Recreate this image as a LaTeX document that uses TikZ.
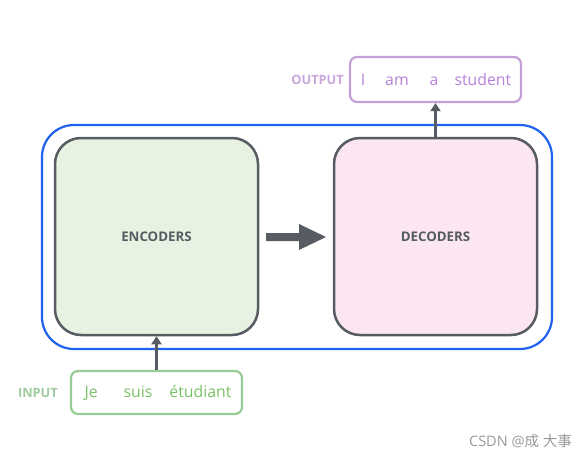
\documentclass[tikz,border=0pt]{standalone}
\usepackage{fontspec}
\setmainfont{Open Sans}
\newfontfamily\cjk{Noto Sans CJK SC}
\usetikzlibrary{arrows.meta}
\definecolor{gblue}{HTML}{1F62EE}
\definecolor{gstroke}{HTML}{575C62}
\definecolor{encfill}{HTML}{E7F2E3}
\definecolor{decfill}{HTML}{FCE6F1}
\definecolor{outstroke}{HTML}{C3A0D6}
\definecolor{outtext}{HTML}{B782DB}
\definecolor{outlabel}{HTML}{C9A8DD}
\definecolor{instroke}{HTML}{97CB95}
\definecolor{intext}{HTML}{79C268}
\definecolor{inlabel}{HTML}{9FCB9F}
\definecolor{wm}{HTML}{9A9A9A}
\tikzset{
  stack/.style={draw=gstroke, line width=2.5pt, rounded corners=26pt, minimum width=203pt, minimum height=197pt, inner sep=0pt, text=gstroke, font=\fontsize{13.3}{16}\selectfont\bfseries},
  wordbox/.style={line width=2.2pt, rounded corners=7pt, fill=white, inner sep=0pt, font=\fontsize{15.8}{18}\selectfont},
  sidelabel/.style={font=\fontsize{12.8}{15}\selectfont\bfseries, inner sep=0pt},
  flow/.style={draw=gstroke, line width=2.5pt, -{Triangle[length=8pt,width=10pt]}}
}
\begin{document}
\begin{tikzpicture}[x=1pt,y=-1pt]
\useasboundingbox[fill=white] (0,0) rectangle (588,460);
% outer blue container
\draw[gblue, line width=2.2pt, rounded corners=32pt] (42,125) rectangle (552,349);
% stacks
\node[stack, fill=encfill] (enc) at (156.5,236.5) {ENCODERS};
\node[stack, fill=decfill] (dec) at (435.5,236.5) {DECODERS};
% thick arrow between
\fill[gstroke] (266,233) -- (299,233) -- (299,224) -- (326,237) -- (299,250) -- (299,241) -- (266,241) -- cycle;
% output box
\node[wordbox, draw=outstroke, text=outtext, minimum width=171pt, minimum height=45pt] (out) at (435.5,79.5)
  {\hspace{1pt}I\hspace{20pt}am\hspace{21pt}a\hspace{16pt}student};
\node[sidelabel, text=outlabel, anchor=east] (outl) at (344,79.5) {OUTPUT};
% input box
\node[wordbox, draw=instroke, text=intext, minimum width=171pt, minimum height=43pt] (in) at (156.5,392.5)
  {\hspace{3pt}Je\hspace{26pt}suis\hspace{17pt}étudiant};
\node[sidelabel, text=inlabel, anchor=east] (inl) at (58,393) {INPUT};
% connectors
\draw[flow] (dec.north) -- (out.south);
\draw[flow] (in.north) -- (enc.south);
% watermark
\node[anchor=east, text=wm, font=\fontsize{14.5}{17}\selectfont, inner sep=0pt] (wmk) at (572,441) {CSDN @{\cjk 成} {\cjk 大事}};
\end{tikzpicture}
\end{document}
